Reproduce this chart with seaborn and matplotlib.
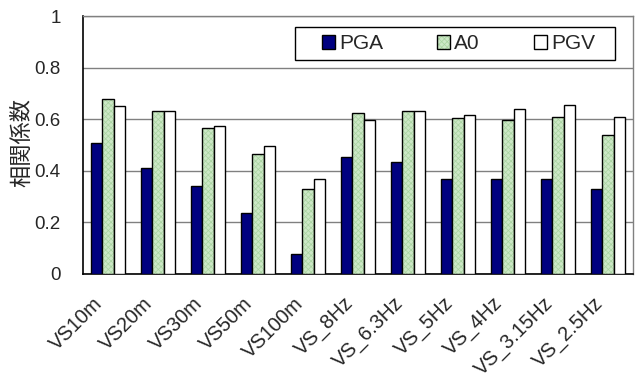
import matplotlib.pyplot as plt
import matplotlib.colors as mcolors
import matplotlib.transforms as mtransforms
from matplotlib.patches import Patch, Rectangle
import seaborn as sns
import pandas as pd
import numpy as np

categories = ["VS10m", "VS20m", "VS30m", "VS50m", "VS100m", "VS_8Hz",
              "VS_6.3Hz", "VS_5Hz", "VS_4Hz", "VS_3.15Hz", "VS_2.5Hz"]
pga = [0.508, 0.410, 0.341, 0.238, 0.077, 0.455, 0.433, 0.369, 0.369, 0.369, 0.328]
a0 = [0.678, 0.633, 0.565, 0.466, 0.328, 0.625, 0.633, 0.605, 0.598, 0.610, 0.540]
pgv = [0.650, 0.633, 0.575, 0.496, 0.369, 0.598, 0.633, 0.615, 0.640, 0.655, 0.609]
series = ["PGA", "A0", "PGV"]

# Long-format table for seaborn
rows = []
for name, vals in zip(series, [pga, a0, pgv]):
    for cat, v in zip(categories, vals):
        rows.append({"cat": cat, "series": name, "value": v})
df = pd.DataFrame(rows)

colors = {"PGA": "#000080", "A0": "#cce8c6", "PGV": "#ffffff"}
hatch_col = mcolors.to_rgba("#a9d3a1")

sns.set_style("white")
plt.rcParams["font.family"] = ["Liberation Sans", "Noto Sans CJK JP", "DejaVu Sans"]
plt.rcParams["hatch.linewidth"] = 0.5

fig = plt.figure(figsize=(6.35, 3.76), dpi=100)
ax = fig.add_axes([0.1307, 0.2713, 0.866, 0.686])

sns.barplot(data=df, x="cat", y="value", hue="series", palette=colors,
            width=0.68, gap=0, edgecolor="black", linewidth=1.0,
            saturation=1, ax=ax, legend=False, zorder=3)

# fine green texture on A0 bars
for p in ax.containers[1]:
    p.set_hatch("xxxxxx")
    p._hatch_color = hatch_col

ax.set_ylim(0, 1)
ax.set_xlim(-0.5, len(categories) - 0.5)
ax.set_yticks(np.arange(0, 1.01, 0.2))
ax.set_yticklabels(["0", "0.2", "0.4", "0.6", "0.8", "1"], fontsize=13.5)
ax.grid(axis="y", color="#808080", linewidth=1.0, zorder=0)
ax.set_axisbelow(True)

ax.set_xticks(range(len(categories)))
ax.set_xticklabels(categories, rotation=45, ha="right", va="center",
                   rotation_mode="anchor", fontsize=14.5)
ax.tick_params(axis="x", length=0, pad=19)
shift = mtransforms.ScaledTranslation(-8 / 100, 0, fig.dpi_scale_trans)
for lbl in ax.get_xticklabels():
    lbl.set_transform(lbl.get_transform() + shift)
ax.set_xticks(np.arange(0.5, len(categories) - 0.5, 1), minor=True)
ax.tick_params(axis="x", which="minor", direction="in", length=5, color="#808080")
ax.tick_params(axis="y", direction="out", length=4, width=1, color="black", pad=12)

ax.set_xlabel("")
ax.set_ylabel("相関係数", fontsize=16, family=["Noto Sans CJK JP"])
ax.yaxis.set_label_coords(-0.091, 0.508)

for side in ["left", "bottom"]:
    ax.spines[side].set_color("black")
    ax.spines[side].set_linewidth(1.2)
for side in ["top", "right"]:
    ax.spines[side].set_color("#808080")
    ax.spines[side].set_linewidth(1.0)

# legend (frame drawn separately so the padding matches)
handles = [Patch(facecolor=colors[s], edgecolor="black", linewidth=1.0,
                 hatch="xxxxxx" if s == "A0" else None) for s in series]
leg = ax.legend(handles, series, ncol=3, loc="center left",
                bbox_to_anchor=(0.4345, 0.893), frameon=False, fontsize=15,
                handlelength=0.62, handleheight=0.62, handletextpad=0.2,
                columnspacing=2.6, borderpad=0, borderaxespad=0)
leg.legend_handles[1]._hatch_color = hatch_col
ax.add_patch(Rectangle((0.3855, 0.8295), 0.5818, 0.128, transform=ax.transAxes,
                       facecolor="white", edgecolor="black", linewidth=1.0, zorder=4))
leg.set_zorder(5)

fig.savefig("out.png", dpi=100)
